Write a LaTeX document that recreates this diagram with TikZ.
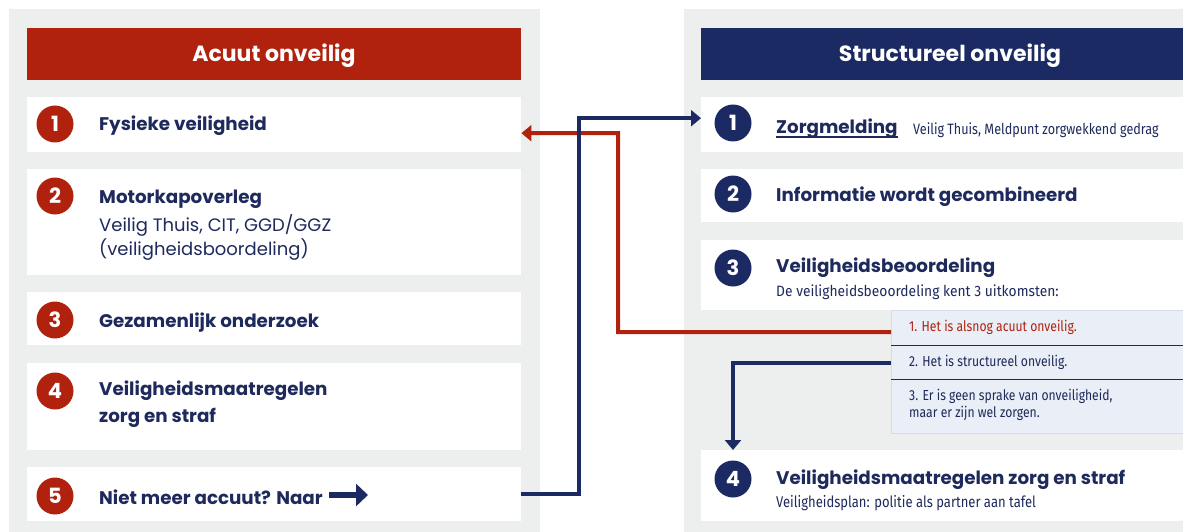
\documentclass[tikz,border=0pt]{standalone}
\usepackage{fontspec}
\setmainfont{Poppins}
\newfontfamily\cond[FakeStretch=0.84]{Fira Sans}
\newfontfamily\condw[FakeStretch=0.92]{Fira Sans}
\usetikzlibrary{arrows.meta}
\definecolor{panel}{HTML}{EDEEEE}
\definecolor{accred}{HTML}{B0220E}
\definecolor{navy}{HTML}{1B2A63}
\definecolor{txt}{HTML}{1E2A5C}
\definecolor{outbg}{HTML}{E9EEF7}
\definecolor{outline}{HTML}{D5DCE8}
\begin{document}
\begin{tikzpicture}[x=1pt,y=-1pt,
  panelbox/.style={fill=panel,draw=none,anchor=north west,inner sep=0pt},
  rowbox/.style={fill=white,draw=none,anchor=north west,inner sep=0pt},
  hdr/.style={draw=none,inner sep=0pt,minimum height=52pt},
  hdrtxt/.style={text=white,font=\bfseries\fontsize{22}{24}\selectfont,inner sep=0pt},
  lnum/.style={circle,fill=accred,text=white,font=\bfseries\fontsize{21}{21}\selectfont,minimum size=37pt,inner sep=0pt},
  rnum/.style={circle,fill=navy,text=white,font=\bfseries\fontsize{21}{21}\selectfont,minimum size=37pt,inner sep=0pt},
  ttl/.style={anchor=west,text=txt,font=\bfseries\fontsize{18.3}{27}\selectfont,inner sep=0pt,align=left},
  reg/.style={anchor=west,text=txt,font=\fontsize{18}{25}\selectfont,inner sep=0pt,align=left},
  small/.style={anchor=west,text=txt,font=\cond\fontsize{15}{17}\selectfont,inner sep=0pt,align=left},
  outtxt/.style={anchor=west,text=txt,font=\cond\fontsize{14.5}{17}\selectfont,inner sep=0pt,align=left},
  conn/.style={line width=4pt,-{Triangle[length=10pt,width=16pt]}},
]
\useasboundingbox (0,0) rectangle (1183,532);
% panels
\node[panelbox,minimum width=531pt,minimum height=540pt] (PL) at (9,9) {};
\node[panelbox,minimum width=532pt,minimum height=540pt] (PR) at (684,9) {};
% headers
\node[hdr,fill=accred,minimum width=494pt] (HL) at (274,54) {};
\node[hdr,fill=navy,minimum width=498pt] (HR) at (950,54) {};
\node[hdrtxt] (HLt) at (274,56) {Acuut onveilig};
\node[hdrtxt] (HRt) at (950,56) {Structureel onveilig};
% left rows
\node[rowbox,minimum width=494pt,minimum height=55pt] (L1) at (27,97) {};
\node[rowbox,minimum width=494pt,minimum height=106pt] (L2) at (27,169) {};
\node[rowbox,minimum width=494pt,minimum height=53pt] (L3) at (27,292) {};
\node[rowbox,minimum width=494pt,minimum height=87pt] (L4) at (27,363) {};
\node[rowbox,minimum width=494pt,minimum height=54pt] (L5) at (27,467) {};
% right rows
\node[rowbox,minimum width=498pt,minimum height=55pt] (R1) at (701,97) {};
\node[rowbox,minimum width=498pt,minimum height=53pt] (R2) at (701,169) {};
\node[rowbox,minimum width=498pt,minimum height=70pt] (R3) at (701,240) {};
\node[rowbox,minimum width=498pt,minimum height=71pt] (R4) at (701,450) {};
% outcomes
\node[anchor=north west,inner sep=0pt,fill=outbg,draw=outline,line width=0.8pt,minimum width=310pt,minimum height=123pt] (OB) at (891,310) {};
\node[anchor=north west,inner sep=0pt,minimum width=310pt,minimum height=35pt] (O1) at (891,310) {};
\node[anchor=north west,inner sep=0pt,minimum width=310pt,minimum height=34pt] (O2) at (891,345) {};
\node[anchor=north west,inner sep=0pt,minimum width=310pt,minimum height=54pt] (O3) at (891,379) {};
\draw[navy,line width=1.2pt] (O1.south west) -- (O1.south east);
\draw[navy,line width=1.2pt] (O2.south west) -- (O2.south east);
% left numbers
\node[lnum] (LC1) at (55,124) {1};
\node[lnum] (LC2) at (55,196) {2};
\node[lnum] (LC3) at (55,320) {3};
\node[lnum] (LC4) at (55,391) {4};
\node[lnum] (LC5) at (55,496) {5};
% right numbers
\node[rnum] (RC1) at (733,123) {1};
\node[rnum] (RC2) at (733,194) {2};
\node[rnum] (RC3) at (733,268) {3};
\node[rnum] (RC4) at (733,479) {4};
% left texts
\node[ttl] (T1) at (99,126) {Fysieke veiligheid};
\node[ttl] (T2a) at (99,199) {Motorkapoverleg};
\node[reg] (T2b) at (99,225) {Veilig Thuis, CIT, GGD/GGZ};
\node[reg] (T2c) at (99,250) {(veiligheidsboordeling)};
\node[ttl] (T3) at (99,323) {Gezamenlijk onderzoek};
\node[ttl] (T4a) at (99,391) {Veiligheidsmaatregelen};
\node[ttl] (T4b) at (99,418) {zorg en straf};
\node[ttl] (T5) at (99,497) {Niet meer accuut? Naar};
\coordinate (A5s) at (329,495);
\coordinate (A5e) at (368,495);
\draw[navy,line width=6.5pt,-{Triangle[length=12pt,width=22pt]}] (A5s) -- (A5e);
% right texts
\node[ttl] (S1) at (776,129) {Zorgmelding};
\draw[txt,line width=1.5pt] ([yshift=-3pt]S1.base west) -- ([yshift=-3pt]S1.base east);
\node[small] (S1b) at (913,130) {Veilig Thuis, Meldpunt zorgwekkend gedrag};
\node[ttl] (S2) at (776,197) {Informatie wordt gecombineerd};
\node[ttl] (S3) at (776,268) {Veiligheidsbeoordeling};
\node[small,font=\condw\fontsize{15}{17}\selectfont] (S3b) at (776,292) {De veiligheidsbeoordeling kent 3 uitkomsten:};
\node[outtxt,text=accred] (U1) at (909,327) {1. Het is alsnog acuut onveilig.};
\node[outtxt] (U2) at (909,362) {2. Het is structureel onveilig.};
\node[outtxt] (U3) at (909,405) {3. Er is geen sprake van onveiligheid,\\maar er zijn wel zorgen.};
\node[ttl] (S4) at (776,480) {Veiligheidsmaatregelen zorg en straf};
\node[small,font=\cond\fontsize{15.5}{17}\selectfont] (S4b) at (776,503) {Veiligheidsplan: politie als partner aan tafel};
% connectors
\draw[conn,accred] ([yshift=-4.5pt]O1.west) -- (618,332) |- ([yshift=-8.5pt]L1.east);
\draw[conn,navy] (L5.east) -| (579,300) |- ([yshift=6.5pt]R1.west);
\draw[conn,navy] ([yshift=-0.5pt]O2.west) -| (RC4 |- R4.north);
\end{tikzpicture}
\end{document}
